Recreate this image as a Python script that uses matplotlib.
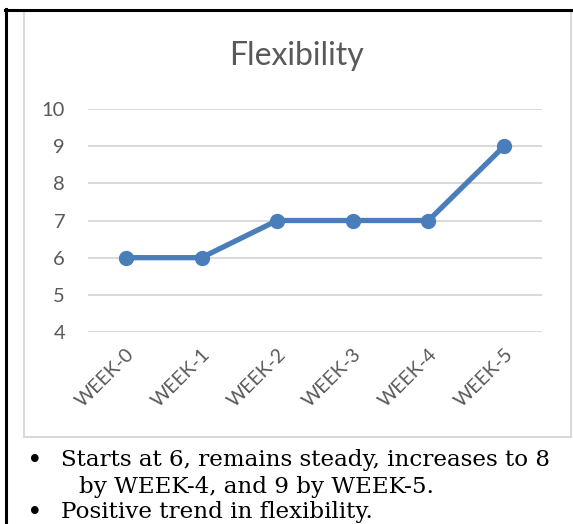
import matplotlib

matplotlib.use("Agg")
import matplotlib.pyplot as plt
from matplotlib.patches import Rectangle
from matplotlib.lines import Line2D

# data
weeks = ["WEEK-0", "WEEK-1", "WEEK-2", "WEEK-3", "WEEK-4", "WEEK-5"]
flexibility = [6, 6, 7, 7, 7, 9]
y_ticks = [4, 5, 6, 7, 8, 9, 10]
notes = [
    ("Starts at 6, remains steady, increases to 8", "by WEEK-4, and 9 by WEEK-5."),
    ("Positive trend in flexibility.", None),
]

W, H = 573, 524
LINE_COLOR = "#4A7EBB"
TEXT_GRAY = "#595959"

fig = plt.figure(figsize=(W / 100, H / 100), dpi=100)


def fx(px):
    return px / W


def fy(py):
    return 1 - py / H


# chart frame (gray) and page edges (black)
fig.patches.append(Rectangle((fx(24), fy(437)), fx(571) - fx(24), fy(11) - fy(437),
                             transform=fig.transFigure, fill=False,
                             edgecolor="#d9d9d9", linewidth=1.5))
fig.lines.append(Line2D([fx(5), fx(573)], [fy(9.5), fy(9.5)], transform=fig.transFigure,
                        color="black", linewidth=2.2))
fig.lines.append(Line2D([fx(6), fx(6)], [fy(9), fy(524)], transform=fig.transFigure,
                        color="black", linewidth=2.2))

ax = fig.add_axes([fx(88), fy(332), fx(542) - fx(88), fy(109) - fy(332)])
x = list(range(len(weeks)))
ax.plot(x, flexibility, color=LINE_COLOR, linewidth=3.8, marker="o",
        markersize=10, zorder=5, clip_on=False)

ax.set_xlim(-0.5, len(weeks) - 0.5)
ax.set_ylim(4, 10)
ax.set_yticks(y_ticks)
ax.set_xticks(x)
ax.set_xticklabels(weeks, rotation=45, ha="right", rotation_mode="anchor")
ax.grid(axis="y", color="#d9d9d9", linewidth=1.4)
ax.set_axisbelow(True)
for s in ax.spines.values():
    s.set_visible(False)
ax.tick_params(axis="y", length=0, pad=16.5, labelsize=14.5, labelcolor=TEXT_GRAY)
ax.tick_params(axis="x", length=0, pad=10, labelsize=14, labelcolor=TEXT_GRAY)
for lab in ax.get_yticklabels() + ax.get_xticklabels():
    lab.set_fontfamily("Lato")

fig.text(fx(296.5), fy(65), "Flexibility", ha="center", va="baseline",
         fontsize=23, color=TEXT_GRAY, fontfamily="Lato")

# bullet notes under the chart
line_y = [466, 493, 518]
row = 0
for first, second in notes:
    fig.text(fx(35), fy(line_y[row] + 2.5), "\u2022", ha="center", va="baseline",
             fontsize=19, fontfamily="DejaVu Serif")
    fig.text(fx(61), fy(line_y[row]), first, ha="left", va="baseline",
             fontsize=16.6, fontfamily="DejaVu Serif")
    row += 1
    if second:
        fig.text(fx(79), fy(line_y[row]), second, ha="left", va="baseline",
                 fontsize=16.6, fontfamily="DejaVu Serif")
        row += 1

fig.savefig("out.png", dpi=100)
